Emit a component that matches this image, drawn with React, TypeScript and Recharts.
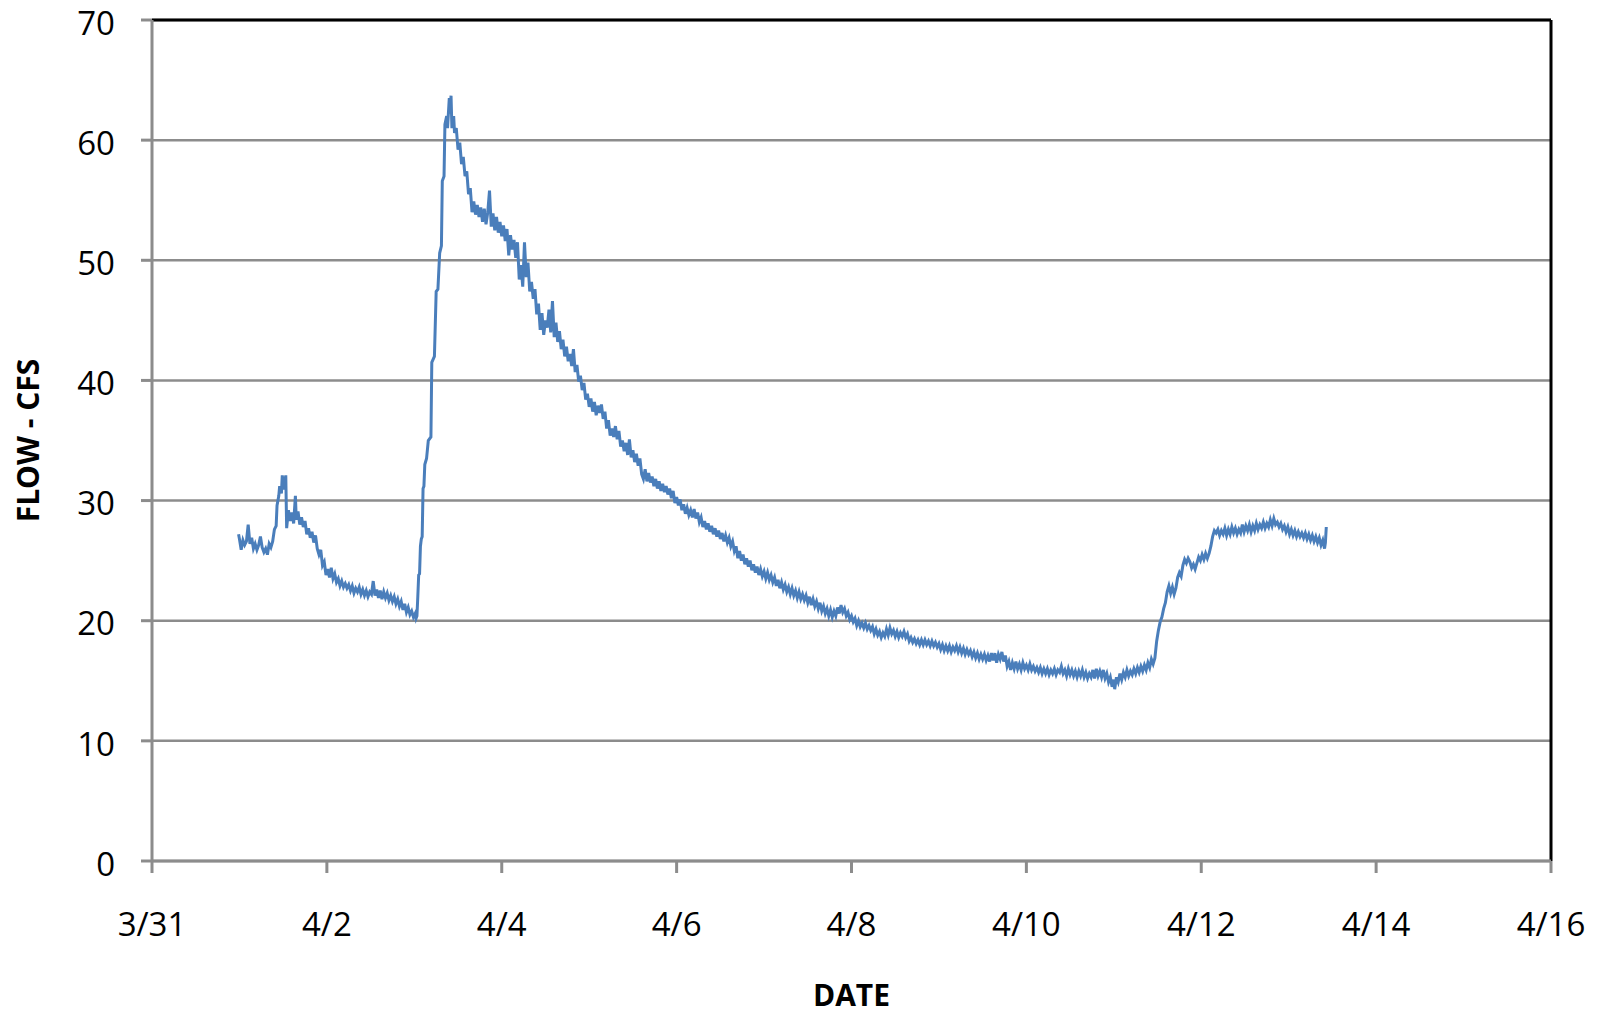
import { LineChart, Line, XAxis, YAxis, CartesianGrid, ReferenceLine } from 'recharts';

// x = days since 3/31 00:00, y = flow in CFS
const apr1Baseflow: [number, number][] = [
  [0.99, 27.2], [1.0, 26.8], [1.02, 25.9], [1.04, 26.7], [1.06, 26.3], [1.08, 26.6], [1.1, 28.0], [1.12, 26.4],
  [1.14, 26.9], [1.16, 26.0], [1.18, 26.4], [1.2, 25.9], [1.22, 26.3], [1.24, 27.0], [1.26, 26.1], [1.28, 25.7],
  [1.3, 26.0], [1.32, 25.5], [1.34, 26.4], [1.36, 26.1], [1.38, 26.6], [1.4, 27.6], [1.42, 27.9], [1.43, 29.6],
  [1.45, 30.4], [1.46, 31.2], [1.48, 30.6], [1.49, 32.1], [1.5, 30.9], [1.51, 32.0], [1.52, 31.2], [1.53, 32.1],
  [1.54, 27.7], [1.56, 29.2], [1.58, 28.3], [1.6, 29.0], [1.62, 28.1], [1.64, 30.4], [1.65, 28.4], [1.67, 29.1],
  [1.69, 28.0], [1.71, 28.6], [1.73, 27.8], [1.75, 28.3], [1.77, 27.2], [1.79, 27.7], [1.81, 26.9], [1.83, 27.4],
  [1.85, 26.5], [1.87, 27.1], [1.89, 26.0], [1.91, 25.5], [1.93, 25.9], [1.95, 24.6], [1.97, 24.9], [1.99, 23.8],
  [2.01, 24.3], [2.03, 23.6], [2.05, 24.4], [2.07, 23.5], [2.09, 23.9], [2.11, 23.2], [2.13, 23.5], [2.15, 22.9],
  [2.17, 23.3], [2.19, 22.8], [2.21, 23.1], [2.23, 22.7], [2.25, 23.0], [2.27, 22.5], [2.29, 22.9], [2.31, 22.3],
  [2.33, 22.7], [2.35, 22.4], [2.37, 22.8], [2.39, 22.2], [2.41, 22.6], [2.43, 22.1], [2.45, 22.5], [2.47, 22.0],
  [2.49, 22.4], [2.51, 22.2], [2.53, 23.3], [2.55, 22.1], [2.57, 22.6], [2.59, 21.9], [2.61, 22.5], [2.63, 21.8],
  [2.65, 22.4], [2.67, 21.9], [2.69, 22.3], [2.71, 21.7], [2.73, 22.1], [2.75, 21.6], [2.77, 22.0], [2.79, 21.4],
  [2.81, 21.8], [2.83, 21.2], [2.85, 21.6], [2.87, 20.9], [2.89, 21.4], [2.91, 20.7], [2.93, 21.1], [2.95, 20.5],
  [2.97, 20.8], [2.99, 20.3], [3.01, 20.6], [3.02, 20.2], [3.03, 20.4],
];

const stormRise: [number, number][] = [
  [3.04, 22.0], [3.05, 23.8], [3.06, 23.9], [3.07, 26.2], [3.08, 26.8], [3.09, 27.0], [3.1, 31.0], [3.11, 31.2],
  [3.12, 33.0], [3.14, 33.5], [3.16, 35.0], [3.19, 35.3], [3.2, 41.5], [3.23, 42.0], [3.25, 47.4], [3.27, 47.6],
  [3.29, 50.6], [3.31, 51.2], [3.32, 56.6], [3.34, 57.0], [3.35, 61.3], [3.37, 62.0], [3.38, 61.0], [3.4, 63.5],
  [3.41, 62.2], [3.42, 63.7],
];

const recession: [number, number][] = [
  [3.43, 61.0], [3.45, 62.0], [3.46, 60.6], [3.48, 61.0], [3.5, 59.2], [3.52, 59.8], [3.54, 58.0], [3.56, 58.6],
  [3.58, 57.0], [3.6, 57.4], [3.62, 55.5], [3.64, 56.0], [3.66, 54.0], [3.68, 54.9], [3.7, 53.8], [3.72, 54.6],
  [3.74, 53.6], [3.76, 54.4], [3.78, 53.2], [3.8, 54.3], [3.82, 53.0], [3.84, 54.0], [3.86, 55.8], [3.88, 52.8],
  [3.9, 53.9], [3.92, 52.5], [3.94, 53.6], [3.96, 52.3], [3.98, 53.2], [4.0, 52.0], [4.02, 52.9], [4.04, 51.6],
  [4.06, 52.6], [4.08, 50.4], [4.1, 52.1], [4.12, 50.9], [4.14, 51.7], [4.16, 50.2], [4.18, 51.5], [4.2, 48.4],
  [4.22, 49.6], [4.24, 47.8], [4.26, 51.5], [4.28, 48.6], [4.3, 49.8], [4.32, 47.4], [4.34, 48.2], [4.36, 46.8],
  [4.38, 47.6], [4.4, 45.5], [4.42, 46.4], [4.44, 44.2], [4.46, 45.6], [4.48, 43.8], [4.5, 45.0], [4.52, 44.4],
  [4.54, 45.9], [4.56, 44.0], [4.58, 46.6], [4.6, 43.6], [4.62, 44.8], [4.64, 43.2], [4.66, 44.1], [4.68, 42.6],
  [4.7, 43.4], [4.72, 42.0], [4.74, 42.8], [4.76, 41.6], [4.78, 42.2], [4.8, 41.2], [4.82, 42.6], [4.84, 40.7],
  [4.86, 41.3], [4.88, 39.9], [4.9, 40.4], [4.92, 39.2], [4.94, 39.8], [4.96, 38.4], [4.98, 38.9], [5.0, 37.8],
  [5.02, 38.5], [5.04, 37.4], [5.06, 38.2], [5.08, 37.1], [5.1, 37.9], [5.12, 37.3], [5.14, 38.0], [5.16, 36.8],
  [5.18, 37.4], [5.2, 36.0], [5.22, 36.7], [5.24, 35.4], [5.26, 36.0], [5.28, 35.3], [5.3, 36.2], [5.32, 35.1],
  [5.34, 35.8], [5.36, 34.5], [5.38, 35.0], [5.4, 34.1], [5.42, 34.8], [5.44, 33.8], [5.46, 35.1], [5.48, 33.6],
  [5.5, 34.2], [5.52, 33.2], [5.54, 33.9], [5.56, 32.9], [5.58, 33.5], [5.6, 32.2], [5.62, 31.8], [5.64, 32.6],
  [5.66, 31.6], [5.68, 32.3], [5.7, 31.5], [5.72, 32.0], [5.74, 31.2], [5.76, 31.8], [5.78, 31.0], [5.8, 31.6],
  [5.82, 30.8], [5.84, 31.4], [5.86, 30.7], [5.88, 31.2], [5.9, 30.5], [5.92, 31.0], [5.94, 30.2], [5.96, 30.8],
  [5.98, 29.8], [6.0, 30.3], [6.02, 29.6], [6.04, 30.1], [6.06, 29.2], [6.08, 29.7], [6.1, 28.9], [6.12, 29.4],
  [6.14, 28.8], [6.16, 29.2], [6.18, 28.6], [6.2, 29.3], [6.22, 28.5], [6.24, 29.0], [6.26, 28.2], [6.28, 28.6],
  [6.3, 27.8], [6.32, 28.3], [6.34, 27.6], [6.36, 28.1], [6.38, 27.4], [6.4, 27.9], [6.42, 27.2], [6.44, 27.7],
  [6.46, 27.0], [6.48, 27.5], [6.5, 26.8], [6.52, 27.3], [6.54, 26.6], [6.56, 27.1], [6.58, 26.5], [6.6, 26.9],
  [6.62, 26.2], [6.64, 26.6], [6.66, 25.8], [6.68, 26.2], [6.7, 25.2], [6.72, 25.8], [6.74, 25.0], [6.76, 25.5],
  [6.78, 24.7], [6.8, 25.2], [6.82, 24.5], [6.84, 25.0], [6.86, 24.2], [6.88, 24.7], [6.9, 24.0], [6.92, 24.5],
  [6.94, 23.8], [6.96, 24.3], [6.98, 23.7], [7.0, 24.1], [7.02, 23.5], [7.04, 24.0], [7.06, 23.4], [7.08, 23.8],
  [7.1, 23.2], [7.12, 23.6], [7.14, 22.9], [7.16, 23.4], [7.18, 22.7], [7.2, 23.2], [7.22, 22.6], [7.24, 23.0],
  [7.26, 22.4], [7.28, 22.8], [7.3, 22.2], [7.32, 22.7], [7.34, 22.1], [7.36, 22.5], [7.38, 21.9], [7.4, 22.4],
  [7.42, 21.8], [7.44, 22.2], [7.46, 21.7], [7.48, 22.1], [7.5, 21.5], [7.52, 22.0], [7.54, 21.3], [7.56, 21.8],
  [7.58, 21.2], [7.6, 21.6], [7.62, 21.0], [7.64, 21.5], [7.66, 20.8], [7.68, 21.2], [7.7, 20.6], [7.72, 21.0],
  [7.74, 20.4], [7.76, 20.9], [7.78, 20.3],
];

const lowFlow: [number, number][] = [
  [7.8, 20.8], [7.82, 20.4], [7.84, 21.1], [7.86, 20.6], [7.88, 21.3], [7.9, 20.7], [7.92, 21.0], [7.94, 20.4],
  [7.96, 20.7], [7.98, 20.1], [8.0, 20.4], [8.02, 19.9], [8.04, 20.2], [8.06, 19.6], [8.08, 20.0], [8.1, 19.5],
  [8.12, 19.8], [8.14, 19.4], [8.16, 19.8], [8.18, 19.3], [8.2, 19.6], [8.22, 19.2], [8.24, 19.5], [8.26, 18.9],
  [8.28, 19.3], [8.3, 18.8], [8.32, 19.1], [8.34, 18.6], [8.36, 19.0], [8.38, 18.7], [8.4, 19.3], [8.42, 18.8],
  [8.44, 19.4], [8.46, 18.9], [8.48, 19.2], [8.5, 18.7], [8.52, 19.1], [8.54, 18.6], [8.56, 19.0], [8.58, 18.7],
  [8.6, 19.1], [8.62, 18.6], [8.64, 18.9], [8.66, 18.3], [8.68, 18.6], [8.7, 18.2], [8.72, 18.5], [8.74, 18.1],
  [8.76, 18.4], [8.78, 18.0], [8.8, 18.4], [8.82, 18.0], [8.84, 18.4], [8.86, 18.0], [8.88, 18.3], [8.9, 17.9],
  [8.92, 18.3], [8.94, 17.9], [8.96, 18.2], [8.98, 17.8], [9.0, 18.1], [9.02, 17.6], [9.04, 18.0], [9.06, 17.5],
  [9.08, 17.9], [9.1, 17.5], [9.12, 17.9], [9.14, 17.4], [9.16, 17.8], [9.18, 17.5], [9.2, 17.9], [9.22, 17.4],
  [9.24, 17.8], [9.26, 17.3], [9.28, 17.7], [9.3, 17.2], [9.32, 17.6], [9.34, 17.2], [9.36, 17.5], [9.38, 17.0],
  [9.4, 17.4], [9.42, 16.9], [9.44, 17.3], [9.46, 16.8], [9.48, 17.2], [9.5, 16.8], [9.52, 17.2], [9.54, 16.7],
  [9.56, 17.1], [9.58, 16.6], [9.6, 17.3], [9.62, 16.7], [9.64, 17.3], [9.66, 16.5], [9.68, 17.2], [9.7, 16.8],
  [9.72, 17.4], [9.74, 16.6], [9.76, 17.1], [9.78, 16.2], [9.8, 16.6], [9.82, 15.9], [9.84, 16.5], [9.86, 16.0],
  [9.88, 16.6], [9.9, 16.0], [9.92, 16.4], [9.94, 15.9], [9.96, 16.5], [9.98, 16.0], [10.0, 16.3], [10.02, 15.9],
  [10.04, 16.4], [10.06, 15.9], [10.08, 16.2], [10.1, 15.8], [10.12, 16.1], [10.14, 15.7], [10.16, 16.1], [10.18, 15.6],
  [10.2, 16.0], [10.22, 15.6], [10.24, 16.0], [10.26, 15.5], [10.28, 15.9], [10.3, 15.6], [10.32, 16.0], [10.34, 15.5],
  [10.36, 15.9], [10.38, 15.7], [10.4, 16.2], [10.42, 15.6], [10.44, 15.9], [10.46, 15.4], [10.48, 16.0], [10.5, 15.5],
  [10.52, 15.9], [10.54, 15.4], [10.56, 15.8], [10.58, 15.3], [10.6, 15.8], [10.62, 15.4], [10.64, 15.9], [10.66, 15.3],
  [10.68, 15.7], [10.7, 15.2], [10.72, 15.6], [10.74, 15.3], [10.76, 15.9], [10.78, 15.2], [10.8, 16.0], [10.82, 15.4],
  [10.84, 15.8], [10.86, 15.3], [10.88, 15.9], [10.9, 15.2], [10.92, 15.6], [10.94, 14.9], [10.96, 15.3], [10.98, 14.5],
  [11.0, 15.1], [11.01, 14.3], [11.03, 15.3], [11.05, 14.9], [11.07, 15.6], [11.09, 15.1], [11.11, 15.7], [11.13, 15.3],
  [11.15, 15.9], [11.17, 15.4], [11.19, 15.8], [11.21, 15.5], [11.23, 16.0], [11.25, 15.6], [11.27, 16.1], [11.29, 15.7],
  [11.31, 16.2], [11.33, 15.8], [11.35, 16.3], [11.37, 15.9], [11.39, 16.5], [11.41, 16.1], [11.43, 16.8],
];

const secondRise: [number, number][] = [
  [11.45, 16.4], [11.47, 16.9], [11.49, 18.3], [11.51, 19.2], [11.53, 19.9], [11.55, 20.3], [11.57, 21.0], [11.59, 21.5],
  [11.61, 22.4], [11.63, 22.9], [11.65, 22.3], [11.67, 22.8], [11.69, 22.2], [11.71, 22.7], [11.73, 23.6], [11.75, 24.0],
  [11.77, 23.7], [11.79, 24.6], [11.81, 25.1], [11.83, 24.8], [11.85, 25.2], [11.87, 24.9], [11.89, 24.4], [11.91, 24.7],
  [11.93, 24.3], [11.95, 24.8], [11.97, 25.3], [11.99, 25.0], [12.01, 25.5], [12.03, 25.1], [12.05, 25.6], [12.07, 25.2],
  [12.09, 25.6], [12.11, 26.2], [12.13, 27.0], [12.15, 27.5], [12.17, 27.3], [12.19, 27.6], [12.21, 27.1], [12.23, 27.5],
  [12.25, 27.2], [12.27, 27.7], [12.29, 27.1], [12.31, 27.6], [12.33, 27.2], [12.35, 27.8], [12.37, 27.3], [12.39, 27.7],
  [12.41, 27.2], [12.43, 27.6], [12.45, 27.3], [12.47, 28.0], [12.49, 27.4], [12.51, 27.9], [12.53, 27.5], [12.55, 28.0],
  [12.57, 27.4], [12.59, 27.9], [12.61, 27.5], [12.63, 28.1], [12.65, 27.6], [12.67, 28.0], [12.69, 27.7], [12.71, 28.2],
  [12.73, 27.7], [12.75, 28.1], [12.77, 27.8], [12.79, 28.4], [12.81, 27.9], [12.83, 28.5], [12.85, 28.0], [12.87, 28.2],
  [12.89, 27.8], [12.91, 28.1], [12.93, 27.6], [12.95, 27.9], [12.97, 27.4], [12.99, 27.8], [13.01, 27.2], [13.03, 27.6],
  [13.05, 27.1], [13.07, 27.5], [13.09, 27.0], [13.11, 27.4], [13.13, 27.0], [13.15, 27.3], [13.17, 26.9], [13.19, 27.3],
  [13.21, 26.8], [13.23, 27.2], [13.25, 26.7], [13.27, 27.1], [13.29, 26.6], [13.31, 27.0], [13.33, 26.5], [13.35, 26.9],
  [13.37, 26.3], [13.39, 26.7], [13.41, 26.0], [13.42, 26.5], [13.43, 27.8],
];

const xTicks = [0, 2, 4, 6, 8, 10, 12, 14, 16];
const xTickLabels = ['3/31', '4/2', '4/4', '4/6', '4/8', '4/10', '4/12', '4/14', '4/16'];
const yTicks = [0, 10, 20, 30, 40, 50, 60, 70];

const data = [...apr1Baseflow, ...stormRise, ...recession, ...lowFlow, ...secondRise].map(([day, flow]) => ({
  day,
  flow,
}));

const tickStyle = { fill: '#000', fontSize: 33, fontFamily: 'Open Sans' };
const titleStyle = { fill: '#000', fontSize: 30, fontWeight: 700, fontFamily: 'Open Sans' };

export default function App() {
  return (
    <div style={{ position: 'absolute', left: 0, top: 0, width: 1597, height: 1018, background: '#fff' }}>
      <LineChart width={1597} height={1018} data={data} margin={{ top: 20, right: 46, bottom: 57, left: 0 }}>
        <CartesianGrid vertical={false} stroke="#8c8c8c" strokeWidth={2.5} />
        <XAxis
          type="number"
          dataKey="day"
          domain={[0, 16]}
          ticks={xTicks}
          tickFormatter={(v: number) => xTickLabels[xTicks.indexOf(v)]}
          height={100}
          stroke="#8c8c8c"
          strokeWidth={3}
          tickSize={12}
          tickMargin={40}
          tick={tickStyle}
          label={{ value: 'DATE', position: 'center', dy: 84, style: titleStyle }}
        />
        <YAxis
          type="number"
          domain={[0, 70]}
          ticks={yTicks}
          width={152}
          stroke="#8c8c8c"
          strokeWidth={3}
          tickSize={11}
          tickMargin={26}
          tick={{ ...tickStyle, dy: 3 }}
          label={{ value: 'FLOW - CFS', angle: -90, position: 'center', dx: -48, style: titleStyle }}
        />
        <ReferenceLine y={70} stroke="#000" strokeWidth={3} />
        <ReferenceLine x={16} stroke="#000" strokeWidth={3} />
        <Line
          type="linear"
          dataKey="flow"
          stroke="#4a7ebb"
          strokeWidth={3}
          dot={false}
          isAnimationActive={false}
        />
      </LineChart>
    </div>
  );
}
